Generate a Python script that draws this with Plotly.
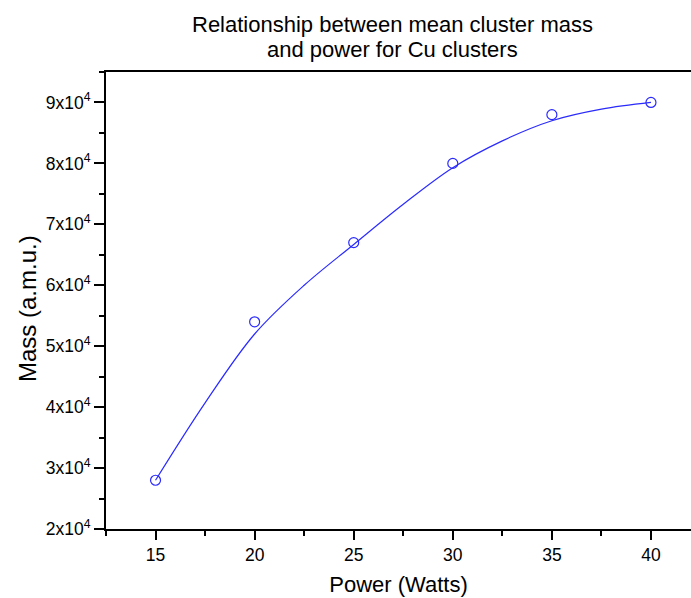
import plotly.graph_objects as go

# Measured data points
power = [15, 20, 25, 30, 35, 40]
mass = [28000, 54000, 67000, 80000, 88000, 90000]

# Fitted curve
fit_power = [15, 17.5, 20, 22.5, 25, 27.5, 30, 32.5, 35, 37.5, 40]
fit_mass = [28000, 40700, 52000, 60000, 66700, 73300, 79300, 83700, 87000, 88900, 90000]

y_tickvals = [20000, 30000, 40000, 50000, 60000, 70000, 80000, 90000]
y_ticktext = ["2x10<sup>4</sup>", "3x10<sup>4</sup>", "4x10<sup>4</sup>", "5x10<sup>4</sup>",
              "6x10<sup>4</sup>", "7x10<sup>4</sup>", "8x10<sup>4</sup>", "9x10<sup>4</sup>"]
x_tickvals = [15, 20, 25, 30, 35, 40]
title_lines = ["Relationship between mean cluster mass", "and power for Cu clusters"]
x_title = "Power (Watts)"
y_title = "Mass (a.m.u.)"

FONT = "Liberation Sans, Arial, sans-serif"
BLUE = "#2a2aff"
W, H = 691, 598
ML, MT, MB = 106, 72, 69
PW = W - ML
PH = H - MT - MB

fig = go.Figure()
fig.add_trace(go.Scatter(
    x=fit_power, y=fit_mass, mode="lines",
    line=dict(color=BLUE, width=1.2, shape="spline", smoothing=1.0),
    hoverinfo="skip", showlegend=False))
fig.add_trace(go.Scatter(
    x=power, y=mass, mode="markers",
    marker=dict(symbol="circle-open", size=10, color=BLUE, line=dict(width=1.2, color=BLUE)),
    showlegend=False))

fig.update_layout(
    width=W, height=H,
    margin=dict(l=ML, r=0, t=MT, b=MB),
    paper_bgcolor="white", plot_bgcolor="white",
    font=dict(family=FONT, color="black", size=17.5),
)

title_y_px = [24, 49]
for txt, ypx in zip(title_lines, title_y_px):
    fig.add_annotation(
        text=txt, xref="paper", yref="paper",
        x=(392 - ML) / PW, y=1 + (MT - ypx) / PH,
        xanchor="center", yanchor="middle", showarrow=False,
        font=dict(size=22, family=FONT, color="black"))

# y-axis title placed as rotated annotation
fig.add_annotation(
    text=y_title, xref="paper", yref="paper",
    x=(27 - ML) / PW, y=1 - (309 - MT) / PH,
    xanchor="center", yanchor="middle", textangle=-90, showarrow=False,
    font=dict(size=24, family=FONT, color="black"))

fig.update_xaxes(
    range=[12.5, 42.02], showgrid=False, zeroline=False,
    showline=True, linecolor="black", linewidth=2, mirror=True,
    ticks="outside", ticklen=9, tickwidth=2, tickcolor="black",
    tickvals=x_tickvals, tickfont=dict(size=17.5),
    minor=dict(ticks="outside", ticklen=5, tickwidth=2, tickcolor="black", dtick=2.5, tick0=12.5, showgrid=False),
    title=dict(text=x_title, font=dict(size=22), standoff=13),
)
fig.update_yaxes(
    range=[20000, 95000], showgrid=False, zeroline=False,
    showline=True, linecolor="black", linewidth=2,
    ticks="outside", ticklen=10, tickwidth=2, tickcolor="black",
    tickvals=y_tickvals, ticktext=y_ticktext, tickfont=dict(size=17.5),
    minor=dict(ticks="outside", ticklen=5, tickwidth=2, tickcolor="black", dtick=5000, tick0=20000, showgrid=False),
)

fig.write_html("out.html")
